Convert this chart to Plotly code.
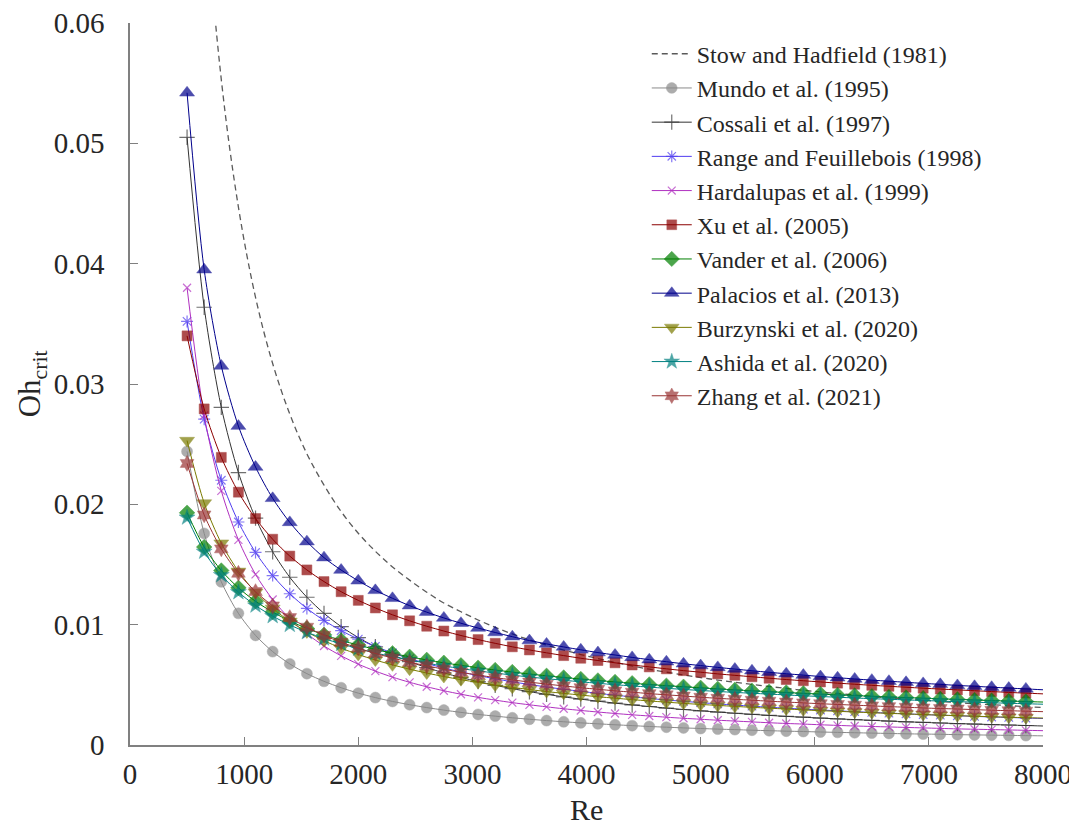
import plotly.graph_objects as go

RE = [500, 650, 800, 950, 1100, 1250, 1400, 1550, 1700, 1850, 2000, 2150, 2300, 2450,
      2600, 2750, 2900, 3050, 3200, 3350, 3500, 3650, 3800, 3950, 4100, 4250, 4400,
      4550, 4700, 4850, 5000, 5150, 5300, 5450, 5600, 5750, 5900, 6050, 6200, 6350,
      6500, 6650, 6800, 6950, 7100, 7250, 7400, 7550, 7700, 7850, 8000]

STOW = [0.0996, 0.0718, 0.0553, 0.0447, 0.0372, 0.0317, 0.0275, 0.0242, 0.0216, 0.0194,
        0.0176, 0.0161, 0.0148, 0.0137, 0.0127, 0.0118, 0.01107, 0.01039, 0.00978, 0.00923,
        0.00874, 0.00830, 0.00789, 0.00752, 0.00718, 0.00686, 0.00657, 0.00630, 0.00605,
        0.00582, 0.00560, 0.00540, 0.00521, 0.00503, 0.00486, 0.00470, 0.00455, 0.00441,
        0.00428, 0.00415, 0.00403, 0.00392, 0.00381, 0.00372, 0.00362, 0.00352, 0.00343,
        0.00335, 0.00327, 0.00319, 0.00311]

MUNDO = [0.02440, 0.01758, 0.01356, 0.01094, 0.00911, 0.00776, 0.00674, 0.00593, 0.00529,
         0.00476, 0.00431, 0.00394, 0.00362, 0.00335, 0.00311, 0.00290, 0.00271, 0.00254,
         0.00240, 0.00226, 0.00214, 0.00203, 0.00193, 0.00184, 0.00176, 0.00168, 0.00161,
         0.00154, 0.00148, 0.00142, 0.00137, 0.00132, 0.00128, 0.00123, 0.00119, 0.00115,
         0.00112, 0.00108, 0.00105, 0.00102, 0.00099, 0.00096, 0.00093, 0.00091, 0.00089,
         0.00086, 0.00084, 0.00082, 0.00080, 0.00078, 0.00076]

COSSALI = [0.05050, 0.03638, 0.02806, 0.02264, 0.01885, 0.01606, 0.01394, 0.01228, 0.01094,
           0.00984, 0.00893, 0.00816, 0.00749, 0.00693, 0.00643, 0.00599, 0.00561, 0.00527,
           0.00496, 0.00468, 0.00443, 0.00421, 0.00400, 0.00381, 0.00364, 0.00348, 0.00333,
           0.00320, 0.00307, 0.00295, 0.00284, 0.00274, 0.00264, 0.00255, 0.00246, 0.00238,
           0.00231, 0.00224, 0.00217, 0.00211, 0.00205, 0.00199, 0.00193, 0.00188, 0.00183,
           0.00178, 0.00174, 0.00170, 0.00166, 0.00162, 0.00158]

RANGE_F = [0.03520, 0.02708, 0.02200, 0.01853, 0.01600, 0.01408, 0.01257, 0.01135, 0.01035,
           0.00951, 0.00880, 0.00819, 0.00765, 0.00718, 0.00677, 0.00640, 0.00607, 0.00577,
           0.00550, 0.00525, 0.00503, 0.00482, 0.00463, 0.00446, 0.00429, 0.00414, 0.00400,
           0.00387, 0.00374, 0.00363, 0.00352, 0.00342, 0.00332, 0.00323, 0.00314, 0.00306,
           0.00298, 0.00291, 0.00284, 0.00277, 0.00271, 0.00265, 0.00259, 0.00253, 0.00248,
           0.00243, 0.00238, 0.00233, 0.00229, 0.00224, 0.00220]

HARDALUPAS = [0.03800, 0.02738, 0.02112, 0.01704, 0.01418, 0.01209, 0.01049, 0.00924, 0.00823,
              0.00741, 0.00672, 0.00614, 0.00564, 0.00521, 0.00484, 0.00451, 0.00422, 0.00396,
              0.00373, 0.00352, 0.00334, 0.00317, 0.00301, 0.00287, 0.00274, 0.00262, 0.00251,
              0.00241, 0.00231, 0.00222, 0.00214, 0.00206, 0.00199, 0.00192, 0.00185, 0.00179,
              0.00174, 0.00168, 0.00163, 0.00158, 0.00154, 0.00150, 0.00146, 0.00142, 0.00138,
              0.00134, 0.00131, 0.00128, 0.00125, 0.00122, 0.00119]

XU = [0.03400, 0.02793, 0.02390, 0.02101, 0.01882, 0.01710, 0.01570, 0.01455, 0.01358,
      0.01274, 0.01202, 0.01139, 0.01082, 0.01032, 0.00987, 0.00947, 0.00910, 0.00876,
      0.00845, 0.00816, 0.00790, 0.00766, 0.00743, 0.00721, 0.00702, 0.00683, 0.00665,
      0.00649, 0.00633, 0.00618, 0.00605, 0.00591, 0.00579, 0.00567, 0.00555, 0.00544,
      0.00534, 0.00524, 0.00514, 0.00505, 0.00496, 0.00488, 0.00480, 0.00472, 0.00465,
      0.00458, 0.00451, 0.00444, 0.00437, 0.00431, 0.00425]

VANDER = [0.01930, 0.01645, 0.01450, 0.01306, 0.01194, 0.01105, 0.01031, 0.00969, 0.00916,
          0.00870, 0.00830, 0.00794, 0.00762, 0.00733, 0.00707, 0.00683, 0.00662, 0.00642,
          0.00623, 0.00606, 0.00590, 0.00575, 0.00561, 0.00548, 0.00536, 0.00524, 0.00513,
          0.00503, 0.00493, 0.00484, 0.00475, 0.00466, 0.00458, 0.00450, 0.00443, 0.00436,
          0.00429, 0.00423, 0.00416, 0.00411, 0.00405, 0.00399, 0.00394, 0.00389, 0.00383,
          0.00379, 0.00374, 0.00369, 0.00365, 0.00361, 0.00357]

PALACIOS = [0.05420, 0.03950, 0.03150, 0.02650, 0.02310, 0.02050, 0.01850, 0.01690, 0.01557,
            0.01454, 0.01365, 0.01285, 0.01219, 0.01158, 0.01104, 0.01056, 0.01012, 0.00972,
            0.00935, 0.00900, 0.00868, 0.00840, 0.00815, 0.00791, 0.00768, 0.00748, 0.00728,
            0.00709, 0.00692, 0.00675, 0.00660, 0.00645, 0.00631, 0.00617, 0.00604, 0.00592,
            0.00581, 0.00569, 0.00559, 0.00549, 0.00539, 0.00530, 0.00521, 0.00512, 0.00504,
            0.00495, 0.00488, 0.00480, 0.00473, 0.00466, 0.00459]

BURZYNSKI = [0.02530, 0.02011, 0.01677, 0.01443, 0.01269, 0.01135, 0.01028, 0.00940, 0.00867,
             0.00805, 0.00752, 0.00706, 0.00666, 0.00630, 0.00598, 0.00569, 0.00543, 0.00520,
             0.00498, 0.00479, 0.00461, 0.00444, 0.00429, 0.00415, 0.00401, 0.00389, 0.00377,
             0.00366, 0.00356, 0.00346, 0.00337, 0.00329, 0.00321, 0.00313, 0.00306, 0.00299,
             0.00292, 0.00285, 0.00280, 0.00274, 0.00268, 0.00263, 0.00258, 0.00253, 0.00248,
             0.00244, 0.00239, 0.00235, 0.00231, 0.00227, 0.00224]

ASHIDA = [0.01890, 0.01606, 0.01412, 0.01270, 0.01159, 0.01071, 0.00998, 0.00937, 0.00885,
          0.00840, 0.00800, 0.00765, 0.00734, 0.00706, 0.00680, 0.00657, 0.00635, 0.00616,
          0.00598, 0.00581, 0.00565, 0.00551, 0.00538, 0.00525, 0.00513, 0.00501, 0.00491,
          0.00481, 0.00471, 0.00462, 0.00453, 0.00445, 0.00437, 0.00430, 0.00423, 0.00416,
          0.00409, 0.00403, 0.00397, 0.00391, 0.00385, 0.00380, 0.00375, 0.00370, 0.00365,
          0.00360, 0.00356, 0.00351, 0.00347, 0.00343, 0.00339]

ZHANG = [0.02340, 0.01912, 0.01630, 0.01427, 0.01275, 0.01156, 0.01059, 0.00979, 0.00912,
         0.00854, 0.00805, 0.00761, 0.00723, 0.00688, 0.00658, 0.00630, 0.00604, 0.00581,
         0.00560, 0.00541, 0.00523, 0.00506, 0.00491, 0.00476, 0.00463, 0.00450, 0.00439,
         0.00427, 0.00417, 0.00407, 0.00397, 0.00388, 0.00380, 0.00372, 0.00364, 0.00357,
         0.00350, 0.00343, 0.00337, 0.00331, 0.00325, 0.00319, 0.00314, 0.00308, 0.00303,
         0.00299, 0.00294, 0.00289, 0.00285, 0.00281, 0.00277]

LABELS = ["Stow and Hadfield (1981)", "Mundo et al. (1995)", "Cossali et al. (1997)",
          "Range and Feuillebois (1998)", "Hardalupas et al. (1999)", "Xu et al. (2005)",
          "Vander et al. (2006)", "Palacios et al. (2013)", "Burzynski et al. (2020)",
          "Ashida et al. (2020)", "Zhang et al. (2021)"]

X_TICKS = [0, 1000, 2000, 3000, 4000, 5000, 6000, 7000, 8000]
Y_TICKS = [0, 0.01, 0.02, 0.03, 0.04, 0.05, 0.06]
Y_TICKTEXT = ["0", "0.01", "0.02", "0.03", "0.04", "0.05", "0.06"]

for arr in [STOW, MUNDO, COSSALI, RANGE_F, HARDALUPAS, XU, VANDER, PALACIOS, BURZYNSKI, ASHIDA, ZHANG]:
    assert len(arr) == len(RE), len(arr)

FONT = "Liberation Serif, Times New Roman, serif"
TXT = "#262626"

# (values, symbol, colour, size, open-symbol?)
styles = [
    (MUNDO, "circle", "#8a8a8a", 11, False),
    (COSSALI, "cross-thin-open", "#333333", 11, True),
    (RANGE_F, "asterisk-open", "#4f3cf0", 10, True),
    (HARDALUPAS, "x-thin-open", "#b030c0", 8, True),
    (XU, "square", "#8b0000", 10, False),
    (VANDER, "diamond", "#007f00", 12, False),
    (PALACIOS, "triangle-up", "#00008b", 13, False),
    (BURZYNSKI, "triangle-down", "#7a7a00", 13, False),
    (ASHIDA, "star", "#008080", 12, False),
    (ZHANG, "hexagram", "#993333", 12, False),
]

fig = go.Figure()

fig.add_trace(go.Scatter(
    x=RE, y=STOW, mode="lines", name=LABELS[0], legendgroup="g0",
    line=dict(color="#5a5a5a", width=1.3, dash="6px,4px", shape="spline"),
))

for i, (vals, sym, col, sz, is_open) in enumerate(styles, start=1):
    sizes = [sz] * (len(RE) - 1) + [0]
    marker = dict(symbol=sym, size=sizes, color=col)
    if is_open:
        marker["line"] = dict(color=col, width=1.2)
    else:
        marker["line"] = dict(color=col, width=0.5)
    fig.add_trace(go.Scatter(
        x=RE, y=vals, mode="lines+markers", name=LABELS[i], legendgroup=f"g{i}",
        line=dict(color=col, width=1, shape="spline", smoothing=0.8),
        marker=marker,
    ))

axis_common = dict(
    showline=True, linecolor="#808080", linewidth=1.5,
    ticks="inside", ticklen=8, tickwidth=1, tickcolor="#808080",
    showgrid=False, zeroline=False, mirror=False, automargin=False,
    ticklabeloverflow="allow",
    tickfont=dict(family=FONT, size=29, color=TXT),
)

# The page body adds an 8px offset, so the figure is sized/margined to compensate.
fig.update_layout(
    width=1069, height=819,
    margin=dict(l=122, r=34, t=15, b=82),
    paper_bgcolor="white", plot_bgcolor="white",
    font=dict(family=FONT, color=TXT),
    showlegend=True,
    legend=dict(
        x=0.566, y=0.988, xanchor="left", yanchor="top",
        bgcolor="rgba(0,0,0,0)", borderwidth=0,
        font=dict(family=FONT, size=24, color=TXT),
        tracegroupgap=0, traceorder="normal", itemwidth=40,
    ),
    xaxis=dict(
        range=[0, 8000], tickvals=X_TICKS, ticktext=[str(v) for v in X_TICKS],
        ticklabelstandoff=2,
        **axis_common,
    ),
    yaxis=dict(
        range=[0, 0.06], tickvals=Y_TICKS, ticktext=Y_TICKTEXT,
        ticklabelstandoff=18,
        **axis_common,
    ),
    annotations=[
        dict(text="Re", xref="paper", yref="paper", x=0.5, y=-0.089,
             xanchor="center", yanchor="middle", showarrow=False,
             font=dict(family=FONT, size=30, color=TXT)),
        dict(text="Oh<sub>crit</sub>", xref="paper", yref="paper", x=-0.107, y=0.5,
             xanchor="center", yanchor="middle", showarrow=False, textangle=-90,
             font=dict(family=FONT, size=31, color=TXT)),
    ],
)

fig.write_html("out.html")
